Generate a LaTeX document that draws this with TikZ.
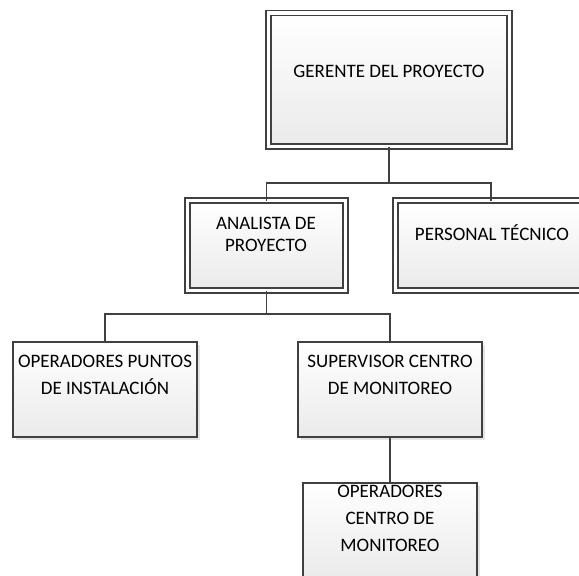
\documentclass[tikz,border=0pt]{standalone}
\usepackage{fontspec}
\setmainfont{Carlito}
\usetikzlibrary{shadows}
\definecolor{edge}{HTML}{404040}
\definecolor{shadegray}{HTML}{EAEAEA}
\tikzset{
  boxbase/.style={rectangle, inner sep=0pt, outer sep=0pt,
    top color=white, bottom color=shadegray,
    drop shadow={shadow xshift=3pt, shadow yshift=-3pt, fill=black, opacity=0.10}},
  dblbox/.style={boxbase, draw=edge, line width=1.3pt, double=white, double distance=3.6pt},
  sglbox/.style={boxbase, draw=edge, line width=1.5pt},
  lbl/.style={align=center, inner sep=0pt, font=\fontsize{19}{22}\selectfont},
  lblwide/.style={align=center, inner sep=0pt, font=\fontsize{19}{27}\selectfont},
  conn/.style={draw=edge, line width=1.8pt}
}
\begin{document}
\begin{tikzpicture}[x=1pt,y=-1pt]
\clip (0,0) rectangle (579,576);
\fill[white] (0,0) rectangle (579,576);
% boxes
\node[dblbox, minimum width=241pt, minimum height=133.5pt] (ger) at (389,79.75) {};
\node[dblbox, minimum width=158pt, minimum height=90pt] (ana) at (266.5,245.5) {};
\node[dblbox, minimum width=191pt, minimum height=90pt] (per) at (491,245.5) {};
\node[sglbox, minimum width=184pt, minimum height=95pt] (opp) at (105,389.5) {};
\node[sglbox, minimum width=184pt, minimum height=95pt] (sup) at (390,389.5) {};
\node[sglbox, minimum width=174pt, minimum height=96pt] (opc) at (390,531) {};
% labels
\node[lbl] (tger) at (389,71) {GERENTE DEL PROYECTO};
\node[lbl] (tana) at (266,234.5) {ANALISTA DE\\PROYECTO};
\node[lbl] (tper) at (492,233) {PERSONAL TÉCNICO};
\node[lblwide] (topp) at (105,375) {OPERADORES PUNTOS\\DE INSTALACIÓN};
\node[lblwide] (tsup) at (390,375) {SUPERVISOR CENTRO\\DE MONITOREO};
\node[lblwide] (topc) at (390,518.5) {OPERADORES\\CENTRO DE\\MONITOREO};
% connectors
\coordinate (j1) at (389,183);
\coordinate (j2) at (266.5,314);
\draw[conn] (ger.south) -- (j1);
\draw[conn] (ana.north) |- (j1) -| (per.north);
\draw[conn] (ana.south) -- (j2);
\draw[conn] (opp.north) |- (j2) -| (sup.north);
\draw[conn] (sup.south) -- (opc.north);
\end{tikzpicture}
\end{document}
